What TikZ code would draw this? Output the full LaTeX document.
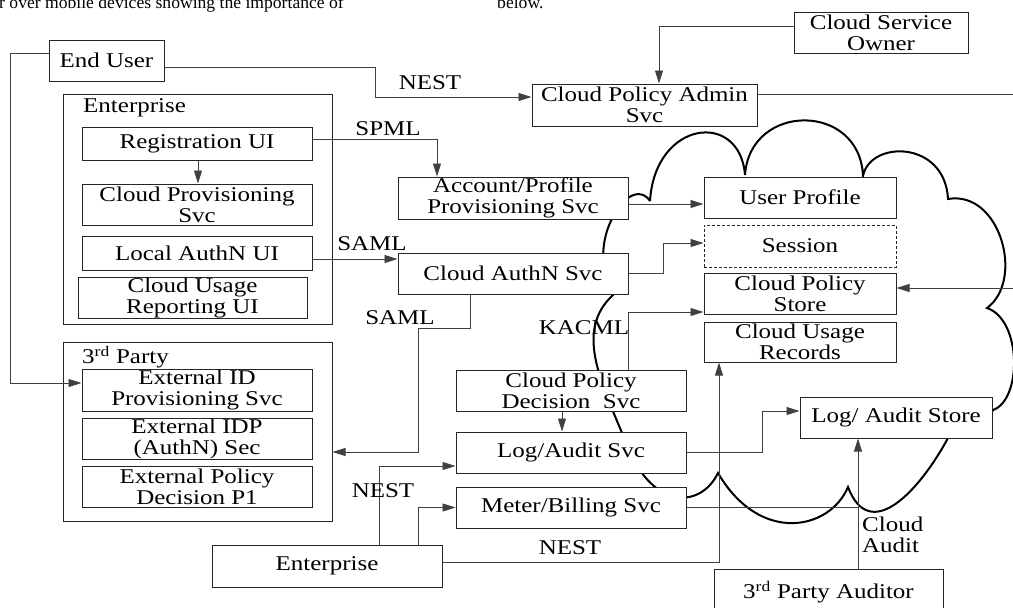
\documentclass[tikz,border=0pt]{standalone}
\usepackage{fontspec}
\setmainfont{Liberation Serif}[FakeStretch=1.19]
\newfontfamily\pagefont{Liberation Serif}
\usetikzlibrary{arrows.meta}
\begin{document}
\begin{tikzpicture}[x=1pt,y=-1pt,
  font=\fontsize{21}{21}\selectfont,
  box/.style={draw=black!85, line width=1pt, fill=white, inner sep=0pt, align=center},
  sz/.style 2 args={minimum width=#1pt, minimum height=#2pt},
  conn/.style={draw=black!75, line width=0.9pt},
  arr/.style={conn, -{Triangle[length=13pt,width=8pt]}},
  lbl/.style={inner sep=0pt, align=left},
  cloudline/.style={draw=black, line width=2pt}]
\useasboundingbox (0,0) rectangle (1013,608);

% page text cut off at the top
\node[anchor=base west, inner sep=0pt, font=\pagefont\fontsize{17.6}{18}\selectfont] (pg1) at (-1,8) {r over mobile devices showing the importance of};
\node[anchor=base west, inner sep=0pt, font=\pagefont\fontsize{17.6}{18}\selectfont] (pg2) at (497,8) {below.};

% cloud
\path[cloudline] (650,201)
  .. controls (655,120) and (740,110) .. (745,175)
  .. controls (750,102) and (860,102) .. (863,176)
  .. controls (870,140) and (945,140) .. (948,199)
  .. controls (1000,190) and (1025,280) .. (987,308)
  .. controls (1022,320) and (1022,400) .. (993,410)
  .. controls (985,430) and (965,435) .. (948,438)
  .. controls (920,490) and (870,545) .. (848,487)
  .. controls (830,530) and (760,545) .. (718,473)
  .. controls (700,510) and (650,510) .. (625,440)
  .. controls (600,380) and (575,330) .. (613,295)
  .. controls (598,270) and (598,225) .. (628,198)
  .. controls (636,192) and (645,193) .. (650,201);

% containers
\node[box, sz={269}{230}] (entout) at (197.5,209) {};
\node[lbl, anchor=west] (entlbl) at (83,108) {Enterprise};
\node[box, sz={269}{179}] (tpout) at (197.5,431.5) {};
\node[lbl, anchor=west] (tplbl) at (82,357) {3\textsuperscript{rd} Party};

% boxes
\node[box, sz={115}{41}] (enduser) at (106.5,60.5) {End User};
\node[box, sz={174}{41}] (cso) at (881,32.5) {Cloud Service\\Owner};
\node[box, sz={225}{42}] (cpa) at (644.5,105) {Cloud Policy Admin\\Svc};

\node[box, sz={230}{33}] (reg) at (197,144) {Registration UI};
\node[box, sz={230}{41}] (cprov) at (197,204.5) {Cloud Provisioning\\Svc};
\node[box, sz={230}{34}] (lauth) at (197,253) {Local AuthN UI};
\node[box, sz={229}{41}] (cusage) at (192.5,297.5) {Cloud Usage\\Reporting UI};

\node[box, sz={230}{42}] (extid) at (197,390) {External ID\\Provisioning Svc};
\node[box, sz={230}{41}] (extidp) at (197,438.5) {External IDP\\(AuthN) Sec};
\node[box, sz={230}{41}] (extpol) at (197,486.5) {External Policy\\Decision P1};

\node[box, sz={230}{42}] (acct) at (513,198) {Account/Profile\\Provisioning Svc};
\node[box, sz={230}{41}] (cauth) at (513,273.5) {Cloud AuthN Svc};

\node[box, sz={192}{41}] (uprof) at (800,197.5) {User Profile};
\node[box, sz={192}{42}, dashed, dash pattern=on 3pt off 2pt] (sess) at (800,246) {Session};
\node[box, sz={192}{41}] (cpstore) at (800,293.5) {Cloud Policy\\Store};
\node[box, sz={192}{40}] (curec) at (800,342) {Cloud Usage\\Records};

\node[box, sz={230}{41}] (cpd) at (571,390.5) {Cloud Policy\\Decision\ \ Svc};
\node[box, sz={230}{41}] (logsvc) at (571,452.5) {Log/Audit Svc};
\node[box, sz={230}{41}] (meter) at (571,507.5) {Meter/Billing Svc};
\node[box, sz={192}{41}] (lstore) at (896,417.5) {Log/ Audit Store};

\node[box, sz={230}{42}] (entb) at (327,566) {Enterprise};
\node[box, sz={229}{46}] (tpa) at (828.5,592) {\raisebox{2.5pt}{3\textsuperscript{rd} Party Auditor}};

% free ends at the right edge
\coordinate (r1) at (1014,94);
\coordinate (r2) at (1014,288);
\coordinate (audx) at ([xshift=29.5pt]tpa.north);

% connectors
\draw[arr] ([yshift=7pt]enduser.west) -- ++(-38,0) |- ([yshift=7pt]extid.west);
\draw[arr] ([yshift=-7pt]enduser.east) -- ++(211,0) |- ([yshift=8pt]cpa.west);
\draw[arr] ([yshift=6.5pt]cso.west) -| ([xshift=14.5pt]cpa.north);
\draw[conn] ([yshift=11pt]cpa.east) -- (r1);
\draw[arr] (r2) -- ([yshift=5.5pt]cpstore.east);

\draw[arr] ([yshift=5pt]reg.east) -| ([xshift=-76pt]acct.north);
\draw[arr] ([xshift=1pt]reg.south) -- ([xshift=1pt]cprov.north);
\draw[arr] ([yshift=-6pt]acct.east) -- ([yshift=-6pt]acct.east -| uprof.west);
\draw[arr] ([yshift=-6pt]lauth.east) -- ([yshift=-6pt]lauth.east -| cauth.west);
\draw[arr] (cauth.east) -- ++(35,0) |- ([yshift=3pt]sess.west);
\draw[arr] ([xshift=-43pt]cauth.south) -- ++(0,34) -- ++(-52,0) |- ([yshift=-20.5pt]tpout.east);

\draw[arr] ([xshift=57pt]cpd.north) |- ([yshift=-18.5pt]cpstore.west);
\draw[arr] ([xshift=-9pt]cpd.south) -- ([xshift=-9pt]logsvc.north);
\draw[arr] (logsvc.east) -- ++(76,0) |- ([yshift=6.5pt]lstore.west);
\draw[arr] (audx) -- (audx |- lstore.south);
\draw[conn] (meter.east) -- (meter.east -| audx);

\draw[arr] ([xshift=52pt]entb.north) |- ([yshift=-13.5pt]logsvc.west);
\draw[arr] ([xshift=91pt]entb.north) |- (meter.west);
\draw[arr] ([yshift=4pt]entb.east) -| ([xshift=-81pt]curec.south);

% labels
\node[lbl] (nest1) at (430,83) {NEST};
\node[lbl] (spml) at (388,129) {SPML};
\node[lbl] (saml1) at (372,244) {SAML};
\node[lbl] (saml2) at (400,318) {SAML};
\node[lbl] (kacml) at (584,328) {KACML};
\node[lbl] (nest2) at (383,491) {NEST};
\node[lbl] (nest3) at (570,548) {NEST};
\node[lbl, anchor=west] (caud) at (862,535) {Cloud\\Audit};
\end{tikzpicture}
\end{document}
